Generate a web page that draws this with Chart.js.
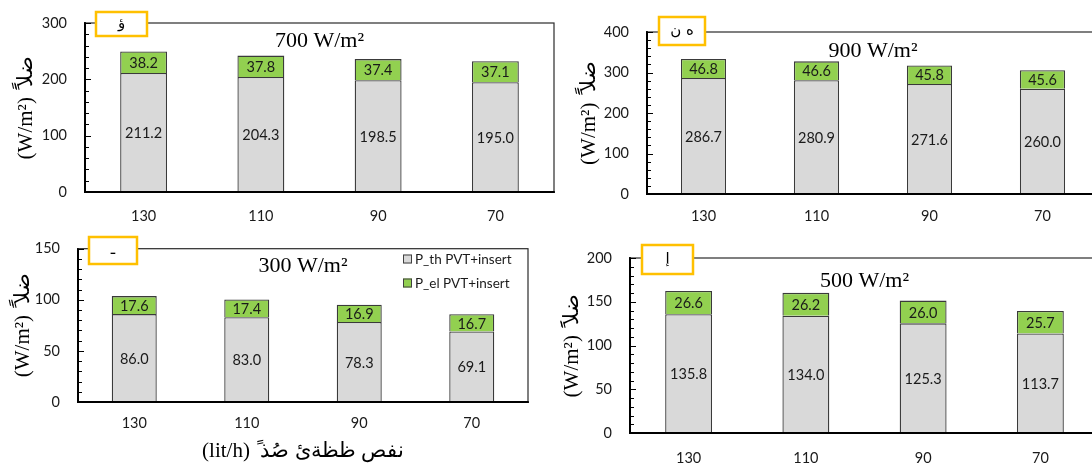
<!DOCTYPE html>
<html>
<head>
<meta charset="utf-8">
<script src="https://cdn.jsdelivr.net/npm/chart.js@4.4.1/dist/chart.umd.min.js"></script>
<style>
html, body { margin: 0; padding: 0; background: #fff; width: 1092px; height: 466px; overflow: hidden; }
.panel { position: absolute; }
</style>
</head>
<body>
<div class="panel" style="left:0;top:0"><canvas id="c700" width="560" height="230"></canvas></div>
<div class="panel" style="left:560px;top:0"><canvas id="c900" width="560" height="230"></canvas></div>
<div class="panel" style="left:0;top:230px"><canvas id="c300" width="560" height="236"></canvas></div>
<div class="panel" style="left:560px;top:230px"><canvas id="c500" width="560" height="236"></canvas></div>
<script>
var flowRates = ['130', '110', '90', '70'];
var seriesNames = ['P_th PVT+insert', 'P_el PVT+insert'];

var thermal700 = [211.2, 204.3, 198.5, 195.0];
var elec700 = [38.2, 37.8, 37.4, 37.1];
var thermal900 = [286.7, 280.9, 271.6, 260.0];
var elec900 = [46.8, 46.6, 45.8, 45.6];
var thermal300 = [86.0, 83.0, 78.3, 69.1];
var elec300 = [17.6, 17.4, 16.9, 16.7];
var thermal500 = [135.8, 134.0, 125.3, 113.7];
var elec500 = [26.6, 26.2, 26.0, 25.7];

var yTitle = '(W/m²) ً ضلاً';
var xTitle = '(lit/h) ً نفص ظظةئ صُذ';

var numFont = 'Lato, sans-serif';

// frame, inner ticks, title inside plot, panel tag, legend
var panelExtras = {
    id: 'panelExtras',
    afterDatasetsDraw: function (chart) {
        var ctx = chart.ctx;
        ctx.save();
        ctx.font = '14.5px ' + numFont;
        ctx.fillStyle = '#1a1a1a';
        ctx.textAlign = 'center';
        ctx.textBaseline = 'middle';
        chart.data.datasets.forEach(function (ds, i) {
            chart.getDatasetMeta(i).data.forEach(function (bar, j) {
                ctx.fillText(ds.data[j].toFixed(1), bar.x, (bar.y + bar.base) / 2 + 1);
            });
        });
        ctx.restore();
    },
    afterDraw: function (chart, args, opts) {
        var ctx = chart.ctx,
            area = chart.chartArea,
            y = chart.scales.y;
        ctx.save();

        ctx.strokeStyle = '#2b2b2b';
        ctx.lineWidth = 1.2;
        ctx.strokeRect(area.left, area.top, area.right - area.left, area.bottom - area.top);

        ctx.strokeStyle = '#000';
        ctx.lineWidth = 2;
        ctx.beginPath();
        ctx.moveTo(area.left, area.top);
        ctx.lineTo(area.left, area.bottom);
        ctx.lineTo(area.right, area.bottom);
        ctx.stroke();

        ctx.lineWidth = 1.2;
        ctx.beginPath();
        for (var v = y.min; v <= y.max; v += opts.minor) {
            var py = Math.round(y.getPixelForValue(v)) + 0.5;
            var len = (v % opts.major === 0) ? 6 : 4;
            ctx.moveTo(area.left, py);
            ctx.lineTo(area.left + len, py);
        }
        ctx.stroke();

        ctx.fillStyle = '#000';
        ctx.font = '22px "Liberation Serif"';
        ctx.textAlign = 'center';
        ctx.textBaseline = 'middle';
        ctx.fillText(opts.title, (area.left + area.right) / 2, area.top + opts.titleOffset);

        var b = opts.tag;
        ctx.fillStyle = '#fff';
        ctx.fillRect(b.x, b.y, b.w, b.h);
        ctx.strokeStyle = '#FFC000';
        ctx.lineWidth = 2.5;
        ctx.strokeRect(b.x, b.y, b.w, b.h);
        ctx.fillStyle = '#000';
        ctx.font = '15px "DejaVu Sans"';
        ctx.fillText(b.text, b.x + b.w / 2, b.y + b.h / 2);

        if (opts.legend) {
            var lg = opts.legend;
            ctx.font = '13.5px ' + numFont;
            ctx.textAlign = 'left';
            chart.data.datasets.forEach(function (ds, i) {
                var cy = lg.y + i * lg.gap;
                ctx.fillStyle = ds.backgroundColor;
                ctx.fillRect(lg.x, cy - 4.5, 9, 9);
                ctx.strokeStyle = '#404040';
                ctx.lineWidth = 1;
                ctx.strokeRect(lg.x + 0.5, cy - 4, 8, 8);
                ctx.fillStyle = '#1a1a1a';
                ctx.fillText(ds.label, lg.x + 12, cy + 1);
            });
        }
        ctx.restore();
    }
};

function buildChart(id, thermal, elec, yMax, yStep, yMinor, cfg) {
    return new Chart(id, {
        type: 'bar',
        data: {
            labels: flowRates,
            datasets: [
                {
                    label: seriesNames[0],
                    data: thermal,
                    backgroundColor: '#D9D9D9',
                    borderColor: '#3a3a3a',
                    borderWidth: 1.3,
                    barPercentage: 0.4,
                    categoryPercentage: 1
                },
                {
                    label: seriesNames[1],
                    data: elec,
                    backgroundColor: '#92D050',
                    borderColor: '#3a3a3a',
                    borderWidth: 1.3,
                    barPercentage: 0.4,
                    categoryPercentage: 1
                }
            ]
        },
        options: {
            responsive: false,
            animation: false,
            devicePixelRatio: 1,
            layout: { padding: cfg.padding },
            plugins: {
                legend: { display: false },
                tooltip: { enabled: false },
                panelExtras: {
                    minor: yMinor,
                    major: yStep,
                    title: cfg.title,
                    titleOffset: cfg.titleOffset,
                    tag: cfg.tag,
                    legend: cfg.legend
                }
            },
            scales: {
                x: {
                    stacked: true,
                    grid: { display: false },
                    border: { display: true, color: '#000', width: 2 },
                    ticks: { color: '#1a1a1a', font: { family: numFont, size: 14.5 }, padding: cfg.xPad },
                    title: cfg.xTitle ? {
                        display: true,
                        text: xTitle,
                        color: '#000',
                        font: { family: 'Liberation Serif', size: 21 },
                        padding: { top: 0, bottom: 2 }
                    } : { display: false },
                    afterFit: function (s) { s.height = cfg.xHeight; }
                },
                y: {
                    stacked: true,
                    min: 0,
                    max: yMax,
                    grid: { display: false },
                    border: { display: true, color: '#000', width: 2 },
                    ticks: { stepSize: yStep, color: '#1a1a1a', font: { family: numFont, size: 14.5 }, padding: 10 },
                    title: {
                        display: true,
                        text: yTitle,
                        color: '#000',
                        font: { family: 'Liberation Serif', size: 21 },
                        padding: { top: cfg.yTitlePad, bottom: 0 }
                    },
                    afterFit: function (s) { s.width = cfg.yWidth; }
                }
            }
        },
        plugins: [panelExtras]
    });
}

buildChart('c700', thermal700, elec700, 300, 100, 20, {
    padding: { left: 0, right: 6, top: 23, bottom: 0 },
    yWidth: 85, xHeight: 38, xPad: 8, yTitlePad: 14,
    title: '700 W/m²', titleOffset: 18,
    tag: { x: 96, y: 12, w: 51, h: 24, text: 'ؤ' }
});

buildChart('c900', thermal900, elec900, 400, 100, 20, {
    padding: { left: 0, right: 21, top: 32, bottom: 0 },
    yWidth: 87, xHeight: 36, xPad: 6, yTitlePad: 17,
    title: '900 W/m²', titleOffset: 19,
    tag: { x: 99, y: 17, w: 46, h: 28, text: 'ه ن' }
});

buildChart('c300', thermal300, elec300, 150, 50, 10, {
    padding: { left: 0, right: 32, top: 16, bottom: 0 },
    yWidth: 78, xHeight: 64, xPad: 5, yTitlePad: 11, xTitle: true,
    title: '300 W/m²', titleOffset: 18,
    tag: { x: 89, y: 7, w: 48, h: 27, text: 'ـ' },
    legend: { x: 403, y: 29, gap: 24 }
});

buildChart('c500', thermal500, elec500, 200, 50, 10, {
    padding: { left: 0, right: 21, top: 28, bottom: 0 },
    yWidth: 70, xHeight: 33, xPad: 9, yTitlePad: 0,
    title: '500 W/m²', titleOffset: 23,
    tag: { x: 82, y: 15, w: 51, h: 29, text: 'إ' }
});
</script>
</body>
</html>
